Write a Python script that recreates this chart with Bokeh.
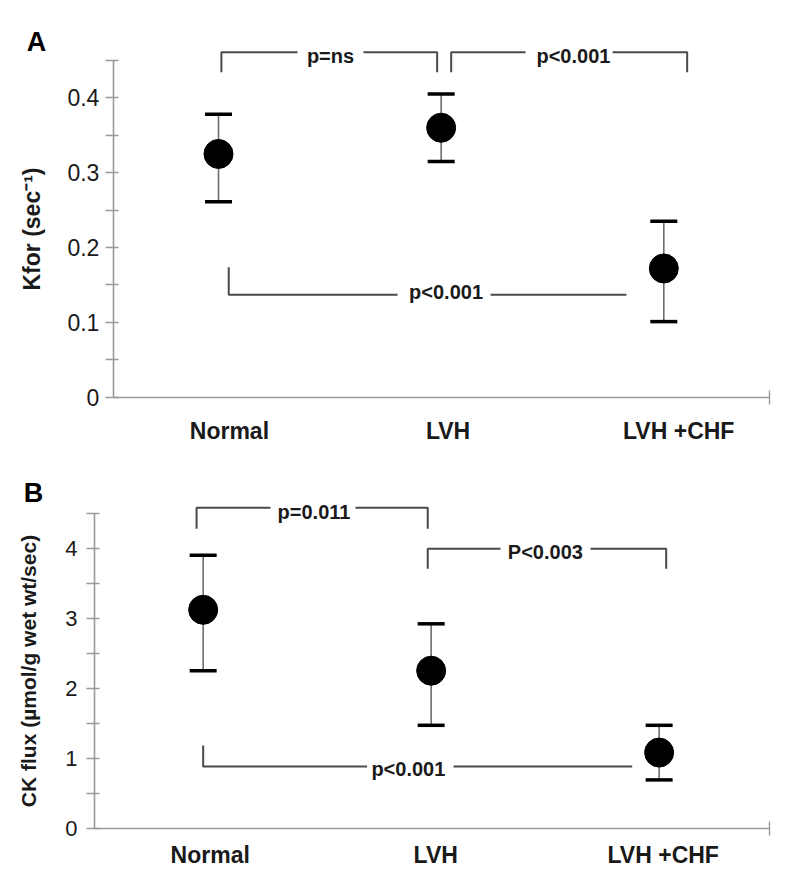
from bokeh.plotting import figure
from bokeh.layouts import column
from bokeh.models import (Range1d, FixedTicker, NumeralTickFormatter, Whisker,
                          TeeHead, ColumnDataSource, Label)
from bokeh.embed import file_html
from bokeh.resources import INLINE

# ---------------- data ----------------
categories = ["Normal", "LVH", "LVH +CHF"]

kfor_mean = [0.325, 0.360, 0.172]
kfor_lower = [0.261, 0.315, 0.101]
kfor_upper = [0.378, 0.405, 0.235]
kfor_ticks = [0, 0.1, 0.2, 0.3, 0.4]
kfor_minor = [0.05, 0.15, 0.25, 0.35, 0.45]
kfor_pvals = ["p=ns", "p<0.001", "p<0.001"]

ck_mean = [3.12, 2.25, 1.08]
ck_lower = [2.25, 1.47, 0.69]
ck_upper = [3.90, 2.92, 1.47]
ck_ticks = [0, 1, 2, 3, 4]
ck_minor = [0.5, 1.5, 2.5, 3.5, 4.5]
ck_pvals = ["p=0.011", "P<0.003", "p<0.001"]

FONT = "Liberation Sans"
AXIS_COL = "#999999"
TEXT_COL = "#1a1a1a"
BRACKET_COL = "#4a4a4a"

xs = list(range(1, len(categories) + 1))


def make_panel(mean, lower, upper, ticks, minor, x_rng, y_rng, x_bounds,
               y_bounds, width, height, ylabel, ylab_size, ytick_size, fmt,
               brackets, pvals, letter, letter_pos, ylabel_standoff,
               ytick_standoff, xlabel_standoff, label_shift):
    p = figure(width=width, height=height, output_backend="svg",
               toolbar_location=None, x_range=Range1d(*x_rng),
               y_range=Range1d(*y_rng), title=None, min_border=0)
    p.outline_line_color = None
    p.grid.visible = False
    p.background_fill_color = "white"
    p.border_fill_color = "white"

    # y axis, drawn at the left end of the x bounds
    ya = p.yaxis[0]
    ya.fixed_location = x_bounds[0]
    ya.ticker = FixedTicker(ticks=ticks, minor_ticks=minor)
    ya.formatter = NumeralTickFormatter(format=fmt)
    ya.bounds = y_bounds
    ya.axis_line_color = AXIS_COL
    ya.axis_line_width = 1.6
    ya.major_tick_line_color = AXIS_COL
    ya.minor_tick_line_color = AXIS_COL
    ya.major_tick_line_width = 1.4
    ya.minor_tick_line_width = 1.4
    ya.major_tick_in = 5
    ya.major_tick_out = 8
    ya.minor_tick_in = 5
    ya.minor_tick_out = 8
    ya.major_label_text_font = FONT
    ya.major_label_text_font_size = ytick_size
    ya.major_label_text_color = TEXT_COL
    ya.major_label_standoff = ytick_standoff
    ya.axis_label = ylabel
    ya.axis_label_text_font = FONT
    ya.axis_label_text_font_style = "bold"
    ya.axis_label_text_font_size = ylab_size
    ya.axis_label_text_color = TEXT_COL
    ya.axis_label_standoff = ylabel_standoff

    # x axis, drawn at y = 0
    label_pos = [x + s for x, s in zip(xs, label_shift)]
    xa = p.xaxis[0]
    xa.fixed_location = y_bounds[0]
    xa.bounds = x_bounds
    xa.ticker = FixedTicker(ticks=label_pos, minor_ticks=[x_bounds[1] - 0.002])
    xa.major_label_overrides = {x: c for x, c in zip(label_pos, categories)}
    xa.axis_line_color = AXIS_COL
    xa.axis_line_width = 1.6
    xa.major_tick_line_color = None
    xa.minor_tick_line_color = AXIS_COL
    xa.minor_tick_line_width = 1.4
    xa.minor_tick_in = 7
    xa.minor_tick_out = 7
    xa.major_label_text_font = FONT
    xa.major_label_text_font_style = "bold"
    xa.major_label_text_font_size = "23px"
    xa.major_label_text_color = TEXT_COL
    xa.major_label_standoff = xlabel_standoff

    src = ColumnDataSource(dict(x=xs, mean=mean, lower=lower, upper=upper))
    w = Whisker(source=src, base="x", upper="upper", lower="lower",
                line_color="#6e6e6e", line_width=1.6,
                upper_head=TeeHead(size=27, line_width=3.5, line_color="black"),
                lower_head=TeeHead(size=27, line_width=3.5, line_color="black"))
    p.add_layout(w)
    p.scatter(x="x", y="mean", source=src, size=29, color="black")

    for (left, right, tpos), txt in zip(brackets, pvals):
        p.line([q[0] for q in left], [q[1] for q in left],
               line_color=BRACKET_COL, line_width=2)
        p.line([q[0] for q in right], [q[1] for q in right],
               line_color=BRACKET_COL, line_width=2)
        p.add_layout(Label(x=tpos[0], y=tpos[1], text=txt,
                           text_font=FONT, text_font_style="bold",
                           text_font_size="20px", text_color=TEXT_COL,
                           text_align="center", text_baseline="middle"))

    p.add_layout(Label(x=letter_pos[0], y=letter_pos[1], text=letter,
                       text_font=FONT, text_font_style="bold",
                       text_font_size="27px", text_color="black",
                       text_align="center", text_baseline="middle"))
    return p


brackets_a = [
    ([(1.013, 0.434), (1.013, 0.461), (1.355, 0.461)],
     [(1.651, 0.461), (1.982, 0.461), (1.982, 0.434)], (1.503, 0.456)),
    ([(2.045, 0.434), (2.045, 0.461), (2.379, 0.461)],
     [(2.770, 0.461), (3.105, 0.461), (3.105, 0.434)], (2.594, 0.456)),
    ([(1.046, 0.1737), (1.046, 0.1368), (1.804, 0.1368)],
     [(2.222, 0.1368), (2.832, 0.1368)], (2.022, 0.140)),
]

brackets_b = [
    ([(0.971, 4.277), (0.971, 4.577), (1.295, 4.577)],
     [(1.668, 4.577), (1.985, 4.577), (1.985, 4.277)], (1.486, 4.52)),
    ([(1.985, 3.706), (1.985, 3.991), (2.304, 3.991)],
     [(2.699, 3.991), (3.031, 3.991), (3.031, 3.706)], (2.501, 3.95)),
    ([(1.0, 1.181), (1.0, 0.881), (1.719, 0.881)],
     [(2.098, 0.881), (2.882, 0.881)], (1.900, 0.84)),
]

pA = make_panel(kfor_mean, kfor_lower, kfor_upper, kfor_ticks, kfor_minor,
                (0.0209, 3.578), (-0.0899, 0.530), (0.528, 3.475), (0, 0.45),
                792, 464, "Kfor (sec\u207b\u00b9)", "23px", "23px", "0.[0]",
                brackets_a, kfor_pvals, "A", (0.1826, 0.4746), 20, 6, 14,
                [0.049, 0.031, 0.067])

pB = make_panel(ck_mean, ck_lower, ck_upper, ck_ticks, ck_minor,
                (0.111, 3.585), (-0.733, 5.196), (0.523, 3.484), (0, 4.5),
                792, 415, "CK flux (\u00b5mol/g wet wt/sec)", "21px", "22px", "0",
                brackets_b, ck_pvals, "B", (0.2557, 4.789), 22, 9, 7,
                [0.031, 0.020, 0.018])

layout = column(pA, pB, spacing=0)
open("out.html", "w").write(file_html(layout, INLINE))
